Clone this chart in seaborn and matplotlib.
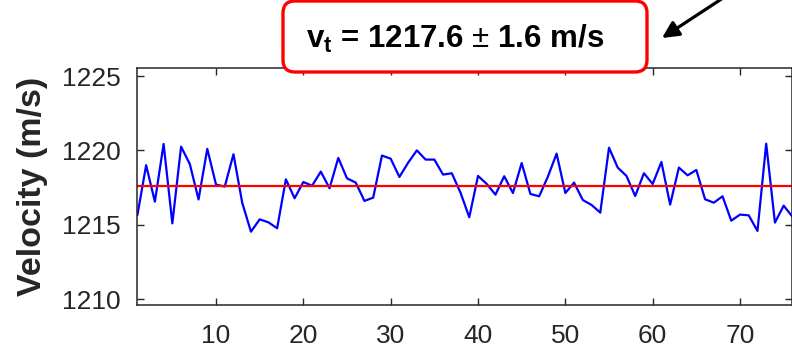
import numpy as np
import pandas as pd
import matplotlib
matplotlib.use("Agg")
import matplotlib.pyplot as plt
from matplotlib.patches import FancyBboxPatch
import seaborn as sns

# Measured velocity per shot and the mean terminal velocity
shot = list(range(1, 77))
velocity = [
    1215.65, 1219.00, 1216.55, 1220.43, 1215.09, 1220.25, 1219.08, 1216.70, 1220.10, 1217.70,
    1217.56, 1219.74, 1216.48, 1214.53, 1215.36, 1215.16, 1214.76, 1218.05, 1216.78, 1217.87,
    1217.62, 1218.57, 1217.45, 1219.49, 1218.12, 1217.83, 1216.60, 1216.82, 1219.65, 1219.44,
    1218.21, 1219.17, 1220.00, 1219.38, 1219.38, 1218.37, 1218.46, 1217.15, 1215.50, 1218.28,
    1217.74, 1217.02, 1218.26, 1217.13, 1219.15, 1217.07, 1216.91, 1218.23, 1219.78, 1217.13,
    1217.83, 1216.66, 1216.33, 1215.81, 1220.18, 1218.84, 1218.28, 1216.93, 1218.46, 1217.74,
    1219.22, 1216.35, 1218.84, 1218.32, 1218.68, 1216.71, 1216.48, 1216.91, 1215.27, 1215.68,
    1215.63, 1214.58, 1220.45, 1215.14, 1216.28, 1215.54,
]
mean_velocity = 1217.6
std_velocity = 1.6
x_ticks = [10, 20, 30, 40, 50, 60, 70]
y_ticks = [1210, 1215, 1220, 1225]

sns.set_style("ticks")
plt.rcParams["font.family"] = ["Liberation Sans", "DejaVu Sans"]
plt.rcParams["mathtext.fontset"] = "custom"
plt.rcParams["mathtext.rm"] = "Liberation Sans"
plt.rcParams["mathtext.bf"] = "Liberation Sans:bold"
plt.rcParams["mathtext.it"] = "Liberation Sans:italic"

df = pd.DataFrame({"shot": shot, "velocity": velocity})

fig = plt.figure(figsize=(7.92, 3.51), dpi=100)
ax = fig.add_axes([0.1735, 0.1311, 0.827, 0.6752])

sns.lineplot(data=df, x="shot", y="velocity", ax=ax, color="#0000ff", linewidth=1.6)
ax.axhline(mean_velocity, color="#ff0000", linewidth=1.6)

ax.set_xlim(1, 76)
ax.set_ylim(1209.6, 1225.54)
ax.set_xticks(x_ticks)
ax.set_yticks(y_ticks)
ax.set_xlabel("")
ax.set_ylabel("Velocity (m/s)", fontsize=24.5, fontweight="bold", color="#262626")
ax.yaxis.set_label_coords(-0.136, 0.5)

edge = "#262626"
for side in ["left", "right", "top", "bottom"]:
    ax.spines[side].set_visible(True)
    ax.spines[side].set_color(edge)
    ax.spines[side].set_linewidth(1.1)
ax.tick_params(axis="both", direction="in", length=5, width=1.0, color=edge,
               labelsize=19, labelcolor="#262626", top=True, right=True)
ax.tick_params(axis="y", pad=12)
ax.tick_params(axis="x", pad=14)

# Result box with the mean value and its spread
box = FancyBboxPatch((283, 279), 364, 71, boxstyle="round,pad=0,rounding_size=12",
                     transform=None, facecolor="white", edgecolor="#ff0000",
                     linewidth=2.4, zorder=5)
fig.patches.append(box)
label = r"$\mathbf{v_t}$ = %.1f $\pm$ %.1f m/s" % (mean_velocity, std_velocity)
fig.text(455 / 792, 1 - 39 / 351, label, fontsize=22.5, fontweight="bold", color="black",
         ha="center", va="center", zorder=6)

ax.annotate("", xy=(662, 313), xycoords="figure pixels",
            xytext=(752, 372), textcoords="figure pixels",
            arrowprops=dict(arrowstyle="-|>", color="black", lw=2.3,
                            mutation_scale=25, shrinkA=0, shrinkB=0),
            annotation_clip=False)

fig.savefig("out.png", dpi=100)
